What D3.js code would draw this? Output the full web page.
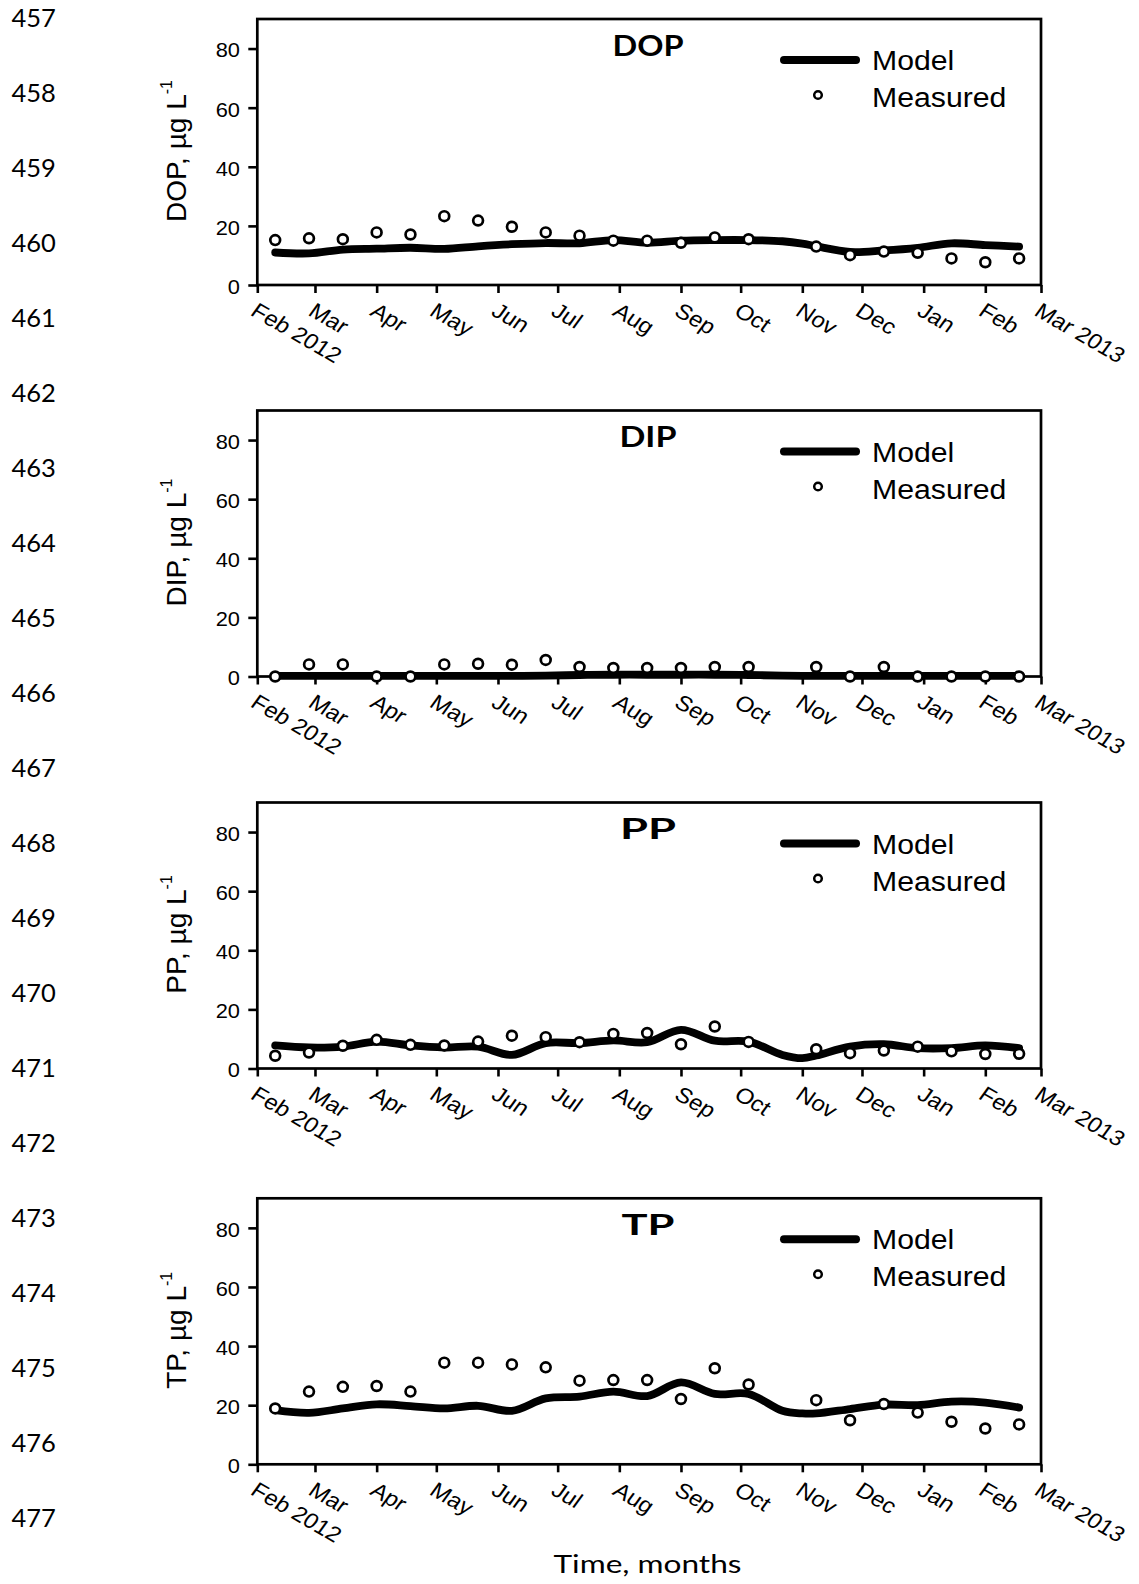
<!DOCTYPE html>
<html>
<head>
<meta charset="utf-8">
<script src="https://cdn.jsdelivr.net/npm/d3@7"></script>
<style>
  body { margin: 0; background: #fff; }
  svg { display: block; }
</style>
</head>
<body>
<svg id="fig" width="1139" height="1584"></svg>
<script>
// ---- data ----
const panelNames = ["DOP", "DIP", "PP", "TP"];

const sampleDates = ["2012-02-10","2012-02-27","2012-03-15","2012-04-01","2012-04-18","2012-05-05",
  "2012-05-22","2012-06-08","2012-06-25","2012-07-12","2012-07-29","2012-08-15","2012-09-01",
  "2012-09-18","2012-10-05","2012-11-08","2012-11-25","2012-12-12","2012-12-29","2013-01-15",
  "2013-02-01","2013-02-18"];

const dopMeasured = [15.2, 15.8, 15.5, 17.8, 17.1, 23.3, 21.8, 19.7, 17.8, 16.7, 15.0, 15.0, 14.3, 16.1, 15.5, 13.0, 10.1, 11.3, 10.9, 9.0, 7.7, 9.0];
const dipMeasured = [0, 4.1, 4.1, 0, 0, 4.1, 4.3, 4.0, 5.6, 3.2, 2.9, 2.9, 2.9, 3.2, 3.2, 3.2, 0, 3.2, 0, 0, 0, 0];
const ppMeasured  = [4.3, 5.4, 7.7, 9.7, 8.0, 7.8, 9.1, 11.1, 10.6, 8.9, 11.7, 12.0, 8.2, 14.2, 9.0, 6.5, 5.2, 6.1, 7.4, 5.8, 4.9, 5.0];
const tpMeasured  = [18.9, 24.6, 26.2, 26.5, 24.6, 34.4, 34.4, 33.8, 32.8, 28.3, 28.5, 28.5, 22.1, 32.5, 27.0, 21.7, 14.9, 20.4, 17.5, 14.4, 12.1, 13.5];

const modelDates = ["2012-02-10","2012-02-27","2012-03-15","2012-04-01","2012-04-18","2012-05-05",
  "2012-05-22","2012-06-08","2012-06-25","2012-07-12","2012-07-29","2012-08-15","2012-09-01",
  "2012-09-18","2012-10-05","2012-10-22","2012-11-01","2012-11-08","2012-11-25","2012-12-12",
  "2012-12-29","2013-01-15","2013-02-01","2013-02-18"];

const dopModel = [11.0, 10.7, 12.0, 12.3, 12.6, 12.2, 13.1, 13.8, 14.2, 14.1, 15.2, 14.3, 15.0, 15.2, 15.2, 14.8, 14.0, 13.1, 11.2, 11.7, 12.6, 14.1, 13.5, 13.0];
const dipModel = [0.2, 0.2, 0.2, 0.2, 0.2, 0.2, 0.2, 0.2, 0.3, 0.5, 0.6, 0.6, 0.6, 0.6, 0.5, 0.3, 0.2, 0.2, 0.2, 0.2, 0.2, 0.2, 0.2, 0.2];
const ppModel  = [7.8, 7.1, 7.4, 9.1, 7.8, 7.1, 7.4, 4.6, 8.6, 8.6, 9.5, 8.9, 13.1, 9.4, 9.1, 4.6, 3.5, 4.4, 7.4, 8.2, 6.9, 6.9, 7.8, 6.9];
const tpModel  = [18.3, 17.4, 18.9, 20.3, 19.7, 18.9, 19.8, 18.1, 22.3, 22.9, 24.6, 23.1, 27.7, 23.8, 23.8, 18.1, 17.2, 17.2, 18.7, 20.2, 20.0, 21.2, 20.9, 19.2];

const measuredSeries = [dopMeasured, dipMeasured, ppMeasured, tpMeasured];
const modelSeries = [dopModel, dipModel, ppModel, tpModel];

const monthTicks = ["2012-02-01","2012-03-01","2012-04-01","2012-05-01","2012-06-01","2012-07-01",
  "2012-08-01","2012-09-01","2012-10-01","2012-11-01","2012-12-01","2013-01-01","2013-02-01","2013-03-01"];
const monthLabels = ["Feb 2012","Mar","Apr","May","Jun","Jul","Aug","Sep","Oct","Nov","Dec","Jan","Feb","Mar 2013"];
const yTicks = [0, 20, 40, 60, 80];
const lineNumbers = [457,458,459,460,461,462,463,464,465,466,467,468,469,470,471,472,473,474,475,476,477,478];

// ---- layout ----
const ARIAL = "'Liberation Sans', Arial, Helvetica, sans-serif";
const CAL = "Lato, 'Open Sans', sans-serif";
const SX = 1.12;                 // horizontal text stretch
const plotLeft = 257.3, plotRight = 1041;
const panelTops = [19, 410.5, 802.5, 1198.3];
const plotH = 266;

const parse = d3.utcParse("%Y-%m-%d");
const svg = d3.select("#fig");

const x = d3.scaleUtc()
  .domain([parse("2012-02-01"), parse("2013-03-01")])
  .range([plotLeft, plotRight]);

// margin line numbers
svg.append("g").selectAll("text")
  .data(lineNumbers)
  .join("text")
  .attr("x", 11.5)
  .attr("y", (d, i) => 27.3 + i * 74.97)
  .attr("font-family", CAL)
  .attr("font-size", 25.5)
  .attr("fill", "#000")
  .text(d => d);

panelNames.forEach((name, pi) => {
  const top = panelTops[pi];
  const bottom = top + plotH;
  const y = d3.scaleLinear().domain([0, 90]).range([bottom, top]);
  const g = svg.append("g");

  // y axis ticks + labels
  const ya = g.append("g")
    .attr("transform", `translate(${plotLeft},0)`)
    .call(d3.axisLeft(y).tickValues(yTicks).tickSize(9).tickFormat(d3.format("d")));
  ya.select(".domain").remove();
  ya.selectAll(".tick line").attr("stroke", "#000").attr("stroke-width", 2.6);
  ya.selectAll(".tick text")
    .attr("x", 0)
    .attr("dy", "0.43em")
    .attr("transform", `translate(-17.3,0) scale(${SX},1)`)
    .attr("font-family", ARIAL)
    .attr("font-size", 19.5)
    .attr("fill", "#000");

  // x axis ticks
  const tickDates = monthTicks.map(parse);
  const xa = g.append("g")
    .attr("transform", `translate(0,${bottom})`)
    .call(d3.axisBottom(x).tickValues(tickDates).tickSize(8).tickFormat(""));
  xa.select(".domain").remove();
  xa.selectAll(".tick line").attr("stroke", "#000").attr("stroke-width", 2.6);

  // slanted month labels
  g.append("g").selectAll("text")
    .data(tickDates)
    .join("text")
    .attr("transform", d => `translate(${x(d) - 8},${bottom + 29.5}) scale(${SX},1) rotate(32.9)`)
    .attr("font-family", ARIAL)
    .attr("font-size", 21.5)
    .attr("fill", "#000")
    .text((d, i) => monthLabels[i]);

  // frame
  g.append("rect")
    .attr("x", plotLeft).attr("y", top)
    .attr("width", plotRight - plotLeft).attr("height", plotH)
    .attr("fill", "none").attr("stroke", "#000").attr("stroke-width", 2.7);

  // y axis title
  const yt = g.append("text")
    .attr("transform", `translate(186,${top + 132}) rotate(-90)`)
    .attr("text-anchor", "middle")
    .attr("font-family", ARIAL)
    .attr("font-size", 28)
    .attr("fill", "#000");
  yt.append("tspan").text(`${name}, µg L`);
  yt.append("tspan").attr("dy", -14).attr("font-size", 16).text("-1");

  // panel title
  g.append("text")
    .attr("x", 648).attr("y", top + 36.5)
    .attr("text-anchor", "middle")
    .attr("font-family", CAL)
    .attr("font-weight", "bold")
    .attr("font-size", 28)
    .attr("textLength", [71, 57, 56, 53][pi])
    .attr("lengthAdjust", "spacingAndGlyphs")
    .attr("fill", "#000")
    .text(name);

  // model curve
  const model = modelDates.map((d, i) => ({ date: parse(d), v: modelSeries[pi][i] }));
  const line = d3.line()
    .x(d => x(d.date))
    .y(d => y(d.v))
    .curve(d3.curveCatmullRom.alpha(0.5));
  g.append("path")
    .datum(model)
    .attr("d", line)
    .attr("fill", "none")
    .attr("stroke", "#000")
    .attr("stroke-width", 7.8)
    .attr("stroke-linecap", "round")
    .attr("stroke-linejoin", "round");

  // measured points
  const meas = sampleDates.map((d, i) => ({ date: parse(d), v: measuredSeries[pi][i] }));
  g.append("g").selectAll("circle")
    .data(meas)
    .join("circle")
    .attr("cx", d => x(d.date))
    .attr("cy", d => y(d.v))
    .attr("r", 4.9)
    .attr("fill", "#fff")
    .attr("stroke", "#000")
    .attr("stroke-width", 2.7);

  // legend
  const lg = g.append("g");
  lg.append("line")
    .attr("x1", 784).attr("x2", 856)
    .attr("y1", top + 41).attr("y2", top + 41)
    .attr("stroke", "#000").attr("stroke-width", 8).attr("stroke-linecap", "round");
  lg.append("circle")
    .attr("cx", 818).attr("cy", top + 76).attr("r", 3.8)
    .attr("fill", "#fff").attr("stroke", "#000").attr("stroke-width", 2.5);
  [["Model", 51], ["Measured", 88]].forEach(([txt, dy]) => {
    lg.append("text")
      .attr("transform", `translate(872,${top + dy}) scale(${SX},1)`)
      .attr("font-family", ARIAL)
      .attr("font-size", 27)
      .attr("fill", "#000")
      .text(txt);
  });
});

// shared x axis title
svg.append("text")
  .attr("x", 647.5).attr("y", 1573)
  .attr("text-anchor", "middle")
  .attr("font-family", CAL)
  .attr("font-size", 25.5)
  .attr("textLength", 188)
  .attr("lengthAdjust", "spacingAndGlyphs")
  .attr("fill", "#000")
  .text("Time, months");
</script>
</body>
</html>
